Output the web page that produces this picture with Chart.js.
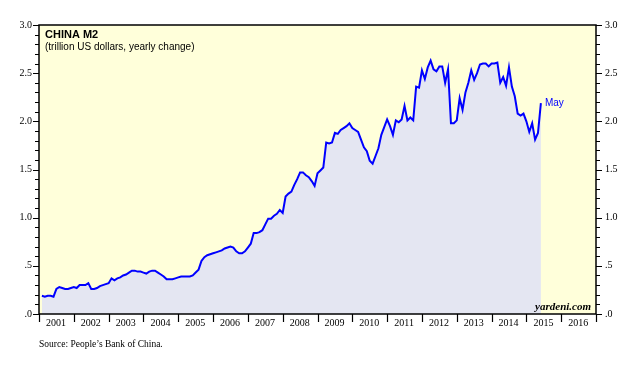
<!DOCTYPE html>
<html>
<head>
<meta charset="utf-8">
<script src="https://cdn.jsdelivr.net/npm/chart.js@4/dist/chart.umd.min.js"></script>
<style>
  html, body { margin: 0; padding: 0; background: #fff; }
  #wrap { width: 626px; height: 376px; position: relative; }
</style>
</head>
<body>
<div id="wrap"><canvas id="m2chart"></canvas></div>
<script>
// China M2, trillion US dollars, yearly change (monthly)
let m2_2001 = [0.19, 0.18, 0.19, 0.19, 0.18, 0.26, 0.28, 0.27, 0.26, 0.26, 0.27, 0.28];
let m2_2002 = [0.27, 0.30, 0.30, 0.30, 0.32, 0.26, 0.26, 0.27, 0.29, 0.30, 0.31, 0.32];
let m2_2003 = [0.37, 0.35, 0.37, 0.38, 0.40, 0.41, 0.43, 0.45, 0.45, 0.44, 0.44, 0.43];
let m2_2004 = [0.42, 0.44, 0.45, 0.45, 0.43, 0.41, 0.39, 0.36, 0.36, 0.36, 0.37, 0.38];
let m2_2005 = [0.39, 0.39, 0.39, 0.39, 0.40, 0.43, 0.46, 0.55, 0.59, 0.61, 0.62, 0.63];
let m2_2006 = [0.64, 0.65, 0.66, 0.68, 0.69, 0.70, 0.69, 0.65, 0.63, 0.63, 0.65, 0.69];
let m2_2007 = [0.73, 0.84, 0.84, 0.85, 0.87, 0.93, 0.99, 0.99, 1.02, 1.04, 1.08, 1.05];
let m2_2008 = [1.22, 1.25, 1.27, 1.34, 1.40, 1.47, 1.47, 1.44, 1.42, 1.38, 1.33, 1.46];
let m2_2009 = [1.49, 1.52, 1.78, 1.77, 1.78, 1.88, 1.87, 1.91, 1.93, 1.95, 1.98, 1.93];
let m2_2010 = [1.91, 1.89, 1.81, 1.73, 1.69, 1.59, 1.56, 1.64, 1.72, 1.86, 1.94, 2.02];
let m2_2011 = [1.95, 1.86, 2.01, 1.99, 2.02, 2.16, 2.01, 2.04, 2.01, 2.36, 2.35, 2.53];
let m2_2012 = [2.44, 2.56, 2.63, 2.54, 2.52, 2.57, 2.57, 2.40, 2.54, 1.98, 1.98, 2.01];
let m2_2013 = [2.24, 2.12, 2.30, 2.40, 2.53, 2.43, 2.50, 2.59, 2.60, 2.60, 2.57, 2.60];
let m2_2014 = [2.60, 2.61, 2.40, 2.46, 2.37, 2.56, 2.36, 2.26, 2.08, 2.06, 2.08, 2.00];
let m2_2015 = [1.89, 1.98, 1.81, 1.88, 2.19];

let years = [2001, 2002, 2003, 2004, 2005, 2006, 2007, 2008, 2009, 2010, 2011, 2012, 2013, 2014, 2015];
let yearValues = [m2_2001, m2_2002, m2_2003, m2_2004, m2_2005, m2_2006, m2_2007, m2_2008,
                  m2_2009, m2_2010, m2_2011, m2_2012, m2_2013, m2_2014, m2_2015];

let lastLabel = 'May';

// month-end points on a year axis
let points = [];
years.forEach((yr, i) => {
    yearValues[i].forEach((v, k) => {
        points.push({ x: yr + (k + 1) / 12, y: v });
    });
});

function yLabel(v) {
    if (Math.abs(v) < 1e-9) return '.0';
    if (v < 1) return '.' + Math.round(v * 10);
    return v.toFixed(1);
}

// plot background, frame, tick marks and notes
const decor = {
    id: 'decor',
    beforeDraw(chart) {
        const { ctx, chartArea: a } = chart;
        ctx.save();
        ctx.fillStyle = 'rgb(255, 255, 218)';
        ctx.fillRect(a.left, a.top, a.right - a.left, a.bottom - a.top);
        ctx.restore();
    },
    afterDraw(chart) {
        const { ctx, chartArea: a, scales } = chart;
        ctx.save();
        ctx.strokeStyle = '#000';
        ctx.lineWidth = 1.5;
        ctx.strokeRect(a.left, a.top, a.right - a.left, a.bottom - a.top);

        // y ticks, both sides
        ctx.lineWidth = 1.2;
        for (let i = 0; i <= 30; i++) {
            const py = Math.round(scales.y.getPixelForValue(i / 10)) + 0.5;
            const len = (i % 5 === 0) ? 6 : 4;
            ctx.beginPath();
            ctx.moveTo(a.left - len, py);
            ctx.lineTo(a.left, py);
            ctx.moveTo(a.right, py);
            ctx.lineTo(a.right + len, py);
            ctx.stroke();
        }
        // x ticks at year boundaries
        for (let yr = 2001; yr <= 2017; yr++) {
            const px = Math.round(scales.x.getPixelForValue(yr)) + 0.5;
            ctx.beginPath();
            ctx.moveTo(px, a.bottom);
            ctx.lineTo(px, a.bottom + 8);
            ctx.stroke();
        }

        // titles
        ctx.fillStyle = '#000';
        ctx.textAlign = 'left';
        ctx.textBaseline = 'alphabetic';
        ctx.font = 'bold 11px "Liberation Sans", Arial, sans-serif';
        ctx.fillText('CHINA M2', a.left + 6, 38);
        ctx.font = '10px "Liberation Sans", Arial, sans-serif';
        ctx.fillText('(trillion US dollars, yearly change)', a.left + 6, 50);

        ctx.font = 'bold italic 11px "Liberation Serif", "Times New Roman", serif';
        ctx.textAlign = 'right';
        ctx.fillText('yardeni.com', a.right - 5, a.bottom - 4);

        ctx.font = '9.5px "Liberation Serif", "Times New Roman", serif';
        ctx.textAlign = 'left';
        ctx.fillText('Source: People\u2019s Bank of China.', a.left, 347);

        // label at the last point
        const meta = chart.getDatasetMeta(0);
        const last = meta.data[meta.data.length - 1];
        ctx.fillStyle = '#0000ff';
        ctx.font = '10px "Liberation Sans", Arial, sans-serif';
        ctx.textBaseline = 'middle';
        ctx.fillText(lastLabel, last.x + 4, last.y);
        ctx.restore();
    }
};

Chart.defaults.font.family = '"Liberation Serif", "Times New Roman", serif';
Chart.defaults.font.size = 10;
Chart.defaults.color = '#000';

const config = {
    type: 'line',
    data: {
        datasets: [{
            data: points,
            borderColor: '#0000ff',
            borderWidth: 2,
            backgroundColor: 'rgb(228, 230, 242)',
            fill: 'origin',
            pointRadius: 0,
            tension: 0
        }]
    },
    options: {
        responsive: true,
        maintainAspectRatio: false,
        animation: false,
        layout: { padding: { top: 25, left: 0, right: 0, bottom: 0 } },
        plugins: {
            legend: { display: false },
            tooltip: { enabled: false }
        },
        scales: {
            x: {
                type: 'linear',
                min: 2001,
                max: 2017,
                grid: { display: false, drawTicks: false },
                border: { display: false },
                ticks: {
                    stepSize: 1,
                    autoSkip: false,
                    maxRotation: 0,
                    padding: 3,
                    labelOffset: 17,
                    callback: (v) => (v >= 2017 ? '' : String(v))
                },
                afterFit: (s) => { s.height = 62; }
            },
            y: {
                position: 'left',
                min: 0,
                max: 3,
                grid: { display: false, drawTicks: false },
                border: { display: false },
                ticks: { stepSize: 0.5, padding: 7, callback: (v) => yLabel(v) },
                afterFit: (s) => { s.width = 39; }
            },
            y2: {
                position: 'right',
                min: 0,
                max: 3,
                grid: { display: false, drawTicks: false },
                border: { display: false },
                ticks: { stepSize: 0.5, padding: 9, callback: (v) => yLabel(v) },
                afterFit: (s) => { s.width = 30; }
            }
        }
    },
    plugins: [decor]
};

const chart = new Chart(document.getElementById('m2chart'), config);
</script>
</body>
</html>
